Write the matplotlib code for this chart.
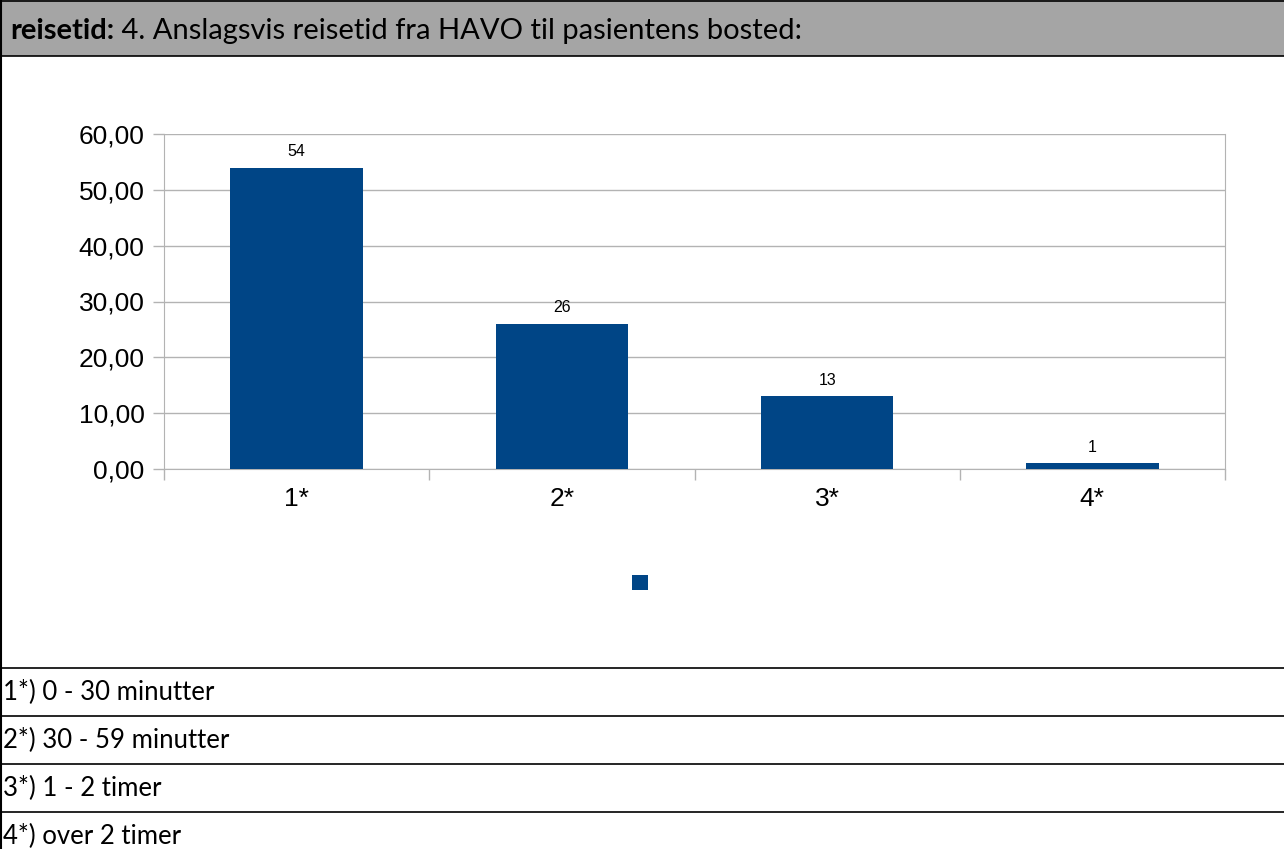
import matplotlib
matplotlib.use("Agg")
import matplotlib.pyplot as plt
from matplotlib.patches import Rectangle, Patch
from matplotlib.lines import Line2D

# data
categories = ["1*", "2*", "3*", "4*"]
values = [54, 26, 13, 1]
value_labels = ["54", "26", "13", "1"]
y_ticks = [0, 10, 20, 30, 40, 50, 60]
y_tick_labels = ["0,00", "10,00", "20,00", "30,00", "40,00", "50,00", "60,00"]
title_bold = "reisetid:"
title_rest = " 4. Anslagsvis reisetid fra HAVO til pasientens bosted:"
footnotes = ["1*) 0 - 30 minutter", "2*) 30 - 59 minutter", "3*) 1 - 2 timer", "4*) over 2 timer"]

W, H = 1284, 849
bar_color = "#004586"
grid_color = "#b3b3b3"

fig = plt.figure(figsize=(W / 100, H / 100), dpi=100)

def fy(py):
    return 1 - py / H

# header band and frame
fig.add_artist(Rectangle((0, fy(56)), 1, 56 / H, transform=fig.transFigure,
                         facecolor="#a5a5a5", edgecolor="none", zorder=0))
for py in [56, 668, 716, 764, 812]:
    fig.add_artist(Line2D([0, 1], [fy(py), fy(py)], transform=fig.transFigure, color="black", lw=1.2))
fig.add_artist(Line2D([1.5 / W, 1.5 / W], [0, 1], transform=fig.transFigure, color="black", lw=1.5))
fig.add_artist(Line2D([0, 1], [fy(1), fy(1)], transform=fig.transFigure, color="black", lw=1.2))

head_font = "Lato"
t = fig.text(10 / W, fy(31), title_bold, fontsize=21, fontweight="bold", family=head_font,
             va="center", ha="left")
fig.canvas.draw()
bb = t.get_window_extent()
fig.text(bb.x1 / W, fy(31), title_rest, fontsize=21, family=head_font, va="center", ha="left")

for i, note in enumerate(footnotes):
    fig.text(3 / W, fy(692 + 48 * i), note, fontsize=18.5, family=head_font, va="center", ha="left")

# chart
ax = fig.add_axes([164 / W, fy(469), 1061 / W, 335 / H])
x = list(range(len(categories)))
bars = ax.bar(x, values, width=0.5, color=bar_color, zorder=3)
for xi, v, lab in zip(x, values, value_labels):
    ax.annotate(lab, (xi, v), xytext=(0, 6), textcoords="offset points", ha="center", va="bottom",
                fontsize=11.5, family="Liberation Sans")

ax.set_xlim(-0.5, len(categories) - 0.5)
ax.set_ylim(0, 60)
ax.set_yticks(y_ticks)
ax.set_yticklabels(y_tick_labels, family="Liberation Sans", fontsize=19)
ax.set_xticks(x)
ax.set_xticklabels(categories, family="Liberation Sans", fontsize=19)
ax.set_xticks([i - 0.5 for i in range(len(categories) + 1)], minor=True)
ax.tick_params(axis="x", which="major", length=0, pad=13)
ax.tick_params(axis="x", which="minor", length=8, color=grid_color, width=1)
ax.tick_params(axis="y", length=8, color=grid_color, width=1, pad=6)
ax.yaxis.grid(True, color=grid_color, lw=1, zorder=0)
for side in ["left", "right", "bottom"]:
    ax.spines[side].set_color(grid_color)
ax.spines["top"].set_visible(False)

ax.legend(handles=[Patch(facecolor=bar_color)], labels=[""], loc="center",
          bbox_to_anchor=(640 / W, fy(583)), bbox_transform=fig.transFigure,
          frameon=False, handlelength=1.0, handleheight=1.0, fontsize=12, handletextpad=0)

fig.savefig("out.png", dpi=100)
